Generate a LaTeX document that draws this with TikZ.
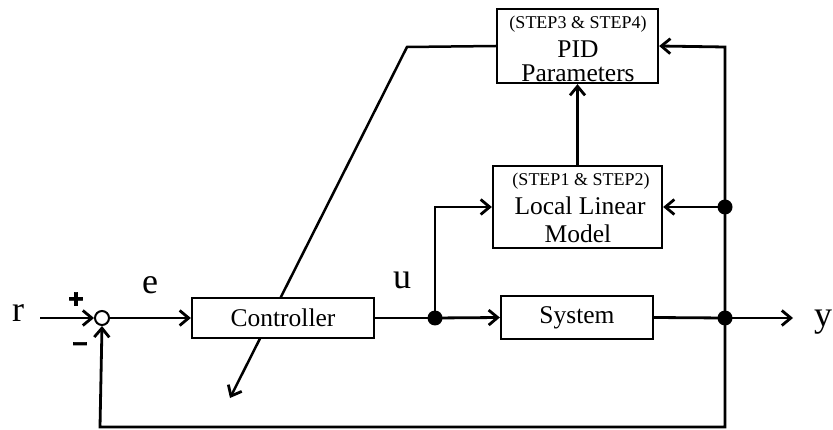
\documentclass[tikz,border=0pt]{standalone}
\usepackage{fontspec}
\setmainfont{Liberation Serif}
\newfontfamily\signfont[FakeBold=2.5]{Liberation Sans}
\usetikzlibrary{arrows.meta,backgrounds}
\begin{document}
\begin{tikzpicture}[x=1pt,y=-1pt,
  line width=2.8pt,
  arr/.style={-{Straight Barb[length=9pt,width=15pt,line width=2.8pt]}},
  blk/.style={draw,line width=2.3pt,fill=white,inner sep=0pt,font=\fontsize{25.5}{25}\selectfont},
  txt/.style={anchor=base,inner sep=0pt,font=\fontsize{25.5}{25}\selectfont},
  smalltxt/.style={anchor=base,inner sep=0pt,font=\fontsize{18}{20}\selectfont},
  lbl/.style={inner sep=0pt,font=\fontsize{36}{40}\selectfont},
  dot/.style={circle,fill=black,inner sep=0pt,minimum size=15pt},
  sign/.style={inner sep=0pt,font=\signfont\bfseries\fontsize{26}{26}\selectfont}
]
\useasboundingbox (0,0) rectangle (833,430);

% blocks
\node[blk,minimum width=182pt,minimum height=40pt] (ctrl) at (283,318) {Controller};
\node[blk,minimum width=152pt,minimum height=43pt] (sys) at (577,317.5) {System};
\node[blk,minimum width=169pt,minimum height=82pt] (llm) at (577.5,207) {};
\node[smalltxt] (llm1) at (581,186) {(STEP1 \& STEP2)};
\node[txt] (llm2) at (580,215) {Local Linear};
\node[txt] (llm3) at (578,243) {Model};
\node[blk,minimum width=161pt,minimum height=74pt] (pid) at (577.5,46) {};
\node[smalltxt] (pid1) at (578,29) {(STEP3 \& STEP4)};
\node[txt] (pid2) at (578,58) {PID};
\node[txt] (pid3) at (578,82) {Parameters};

% summing junction
\node[circle,draw,line width=2pt,fill=white,minimum size=14pt,inner sep=0pt] (sum) at (102,318) {};

% dots
\node[dot] (d1) at (435,318) {};
\node[dot] (d2) at (725,318) {};
\node[dot] (d3) at (725,207) {};
\coordinate (top) at (725,47);
\coordinate (bot) at (725,427);
\coordinate (botl) at (100,427);
\coordinate (rin) at (40,318);
\coordinate (yout) at (793,318);
\coordinate (kink) at (407,47);
\coordinate (tip) at (230,398);
\coordinate (branch) at (435,207);

% labels
\node[lbl] (rl) at (18,313) {r};
\node[lbl] (el) at (150,285) {e};
\node[lbl] (ul) at (402,280) {u};
\node[lbl] (yl) at (823,322) {y};
\node[sign] (plus) at (76,300) {+};
\node[sign] (minus) at (80,346.5) {\textendash};

% connectors
\draw[arr] (rin) -- (sum.west);
\draw[arr] (sum.east) -- (ctrl.west);
\draw (ctrl.east) -- (d1.center);
\draw[arr] (d1.center) -- (sys.west);
\draw (sys.east) -- (d2.center);
\draw[arr] (d2.center) -- (yout);
\draw[arr] (d1.center) -- (branch) -- (llm.west);
\draw[arr] (d3.center) -- (llm.east);
\draw[arr] (llm.north) -- (pid.south);
\draw[arr] (d2.center) -- (top) -- (pid.east);
\draw[arr] (d2.center) -- (bot) -- (botl) -- (sum.south);
\begin{scope}[on background layer]
\draw[arr,line width=2.5pt] (pid.west) -- (kink) -- (tip);
\end{scope}
\end{tikzpicture}
\end{document}
